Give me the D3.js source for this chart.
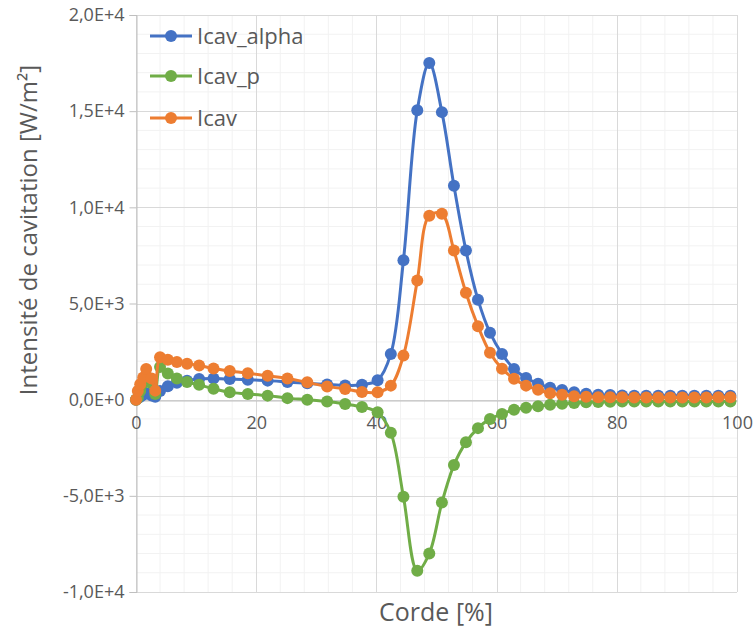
<!DOCTYPE html>
<html><head><meta charset="utf-8">
<script src="https://cdn.jsdelivr.net/npm/d3@7"></script>
<style>body{margin:0;background:#fff}svg{display:block}</style>
</head><body>
<script>
const chord = [0, 0.3, 0.7, 1.2, 1.7, 2.6, 3.2, 4.0, 5.3, 6.8, 8.5, 10.5, 12.9, 15.6, 18.6, 21.9, 25.2, 28.5, 31.8, 34.8, 37.6, 40.2, 42.4, 44.5, 46.8, 48.8, 50.9, 52.9, 54.9, 56.9,
  58.9, 60.9, 62.9, 64.9, 66.9, 68.9, 70.9, 72.9, 74.9, 76.9, 78.9, 80.9, 82.9, 84.9, 86.9, 88.9, 90.9, 92.9, 94.9, 96.9, 98.9];
const icavAlpha = [0, 80, 150, 250, 330, 220, 150, 450, 700, 880, 990, 1080, 1100, 1070, 1030, 990, 920, 850, 790, 740, 780, 1010, 2380, 7250, 15050, 17500, 14950, 11120, 7750, 5200,
  3480, 2380, 1600, 1130, 830, 620, 500, 380, 310, 260, 240, 220, 210, 210, 200, 200, 200, 200, 200, 210, 210];
const icavP = [0, 100, 450, 850, 1250, 850, 300, 1700, 1360, 1100, 920, 770, 570, 380, 300, 210, 80, 0, -100, -230, -380, -660, -1720, -5050, -8900, -8000, -5350, -3400, -2220, -1480,
  -1000, -750, -520, -420, -340, -270, -210, -170, -140, -120, -110, -100, -100, -90, -90, -90, -90, -90, -90, -90, -90];
const icav = [0, 450, 800, 1150, 1600, 1100, 470, 2200, 2080, 1960, 1870, 1780, 1620, 1490, 1370, 1240, 1100, 900, 680, 560, 400, 390, 730, 2290, 6190, 9560, 9670, 7750, 5560, 3820,
  2440, 1610, 1090, 730, 520, 330, 260, 180, 150, 130, 120, 120, 110, 110, 110, 110, 110, 110, 110, 120, 120];
const seriesNames = ["Icav_alpha", "Icav_p", "Icav"];
const seriesColors = ["#4472C4", "#70AD47", "#ED7D31"];
const xTicks = [0, 20, 40, 60, 80, 100];
const yTicks = [-10000, -5000, 0, 5000, 10000, 15000, 20000];
const yTickLabels = ["-1,0E+4", "-5,0E+3", "0,0E+0", "5,0E+3", "1,0E+4", "1,5E+4", "2,0E+4"];
const xTitle = "Corde [%]";
const yTitle = "Intensité de cavitation [W/m²]";

const W = 753, H = 634;
const svg = d3.select("body").append("svg").attr("width", W).attr("height", H)
  .style("font-family", "'Open Sans', sans-serif");
const x = d3.scaleLinear().domain([0, 100]).range([136, 737]);
const y = d3.scaleLinear().domain([-10000, 20000]).range([592, 15]);

// minor gridlines
const gMinor = svg.append("g").attr("stroke", "#F2F2F2").attr("stroke-width", 1);
d3.range(0, 101, 4).forEach(v => { if (v % 20 !== 0) gMinor.append("line").attr("x1", x(v)).attr("x2", x(v)).attr("y1", y(-10000)).attr("y2", y(20000)); });
d3.range(-10000, 20001, 1000).forEach(v => { if (v % 5000 !== 0) gMinor.append("line").attr("y1", y(v)).attr("y2", y(v)).attr("x1", x(0)).attr("x2", x(100)); });
// major gridlines
const gMajor = svg.append("g").attr("stroke", "#D9D9D9").attr("stroke-width", 1);
xTicks.forEach(v => gMajor.append("line").attr("x1", Math.round(x(v)) + 0.5).attr("x2", Math.round(x(v)) + 0.5).attr("y1", y(-10000)).attr("y2", y(20000)));
yTicks.forEach(v => gMajor.append("line").attr("y1", Math.round(y(v)) + 0.5).attr("y2", Math.round(y(v)) + 0.5).attr("x1", x(0)).attr("x2", x(100)));

// y axis
const yAxis = d3.axisLeft(y).tickValues(yTicks).tickFormat((d, i) => yTickLabels[i]).tickSize(7).tickPadding(5);
const gy = svg.append("g").attr("transform", `translate(${Math.round(x(0)) + 0.5},0)`).call(yAxis);
gy.select(".domain").attr("stroke", "#BFBFBF");
gy.selectAll(".tick line").attr("stroke", "#BFBFBF");
gy.selectAll(".tick text").attr("fill", "#595959").style("font-size", "18px").style("font-family", "'Open Sans', sans-serif");

// x axis at y=0
const xAxis = d3.axisBottom(x).tickValues(xTicks).tickFormat(d3.format("d")).tickSize(0).tickPadding(16);
const gx = svg.append("g").attr("transform", `translate(0,${Math.round(y(0)) + 0.5})`).call(xAxis);
gx.select(".domain").attr("stroke", "#BFBFBF");
gx.selectAll(".tick text").attr("fill", "#595959").style("font-size", "18px").style("font-family", "'Open Sans', sans-serif");

// titles
svg.append("text").attr("x", 436).attr("y", 621).attr("text-anchor", "middle").attr("fill", "#595959")
  .style("font-size", "25px").text(xTitle);
svg.append("text").attr("transform", "translate(37,230) rotate(-90)").attr("text-anchor", "middle").attr("fill", "#595959")
  .style("font-size", "24px").text(yTitle);

// series
const allSeries = [icavAlpha, icavP, icav];
const line = d3.line().x((d, i) => x(chord[i])).y(d => y(d)).curve(d3.curveCatmullRom.alpha(0.5));
allSeries.forEach((vals, k) => {
  const g = svg.append("g");
  g.append("path").datum(vals).attr("d", line).attr("fill", "none").attr("stroke", seriesColors[k])
    .attr("stroke-width", 3).attr("stroke-linejoin", "round");
  g.selectAll("circle").data(vals).join("circle").attr("cx", (d, i) => x(chord[i])).attr("cy", d => y(d))
    .attr("r", 6).attr("fill", seriesColors[k]);
});

// legend
const legY = [36, 76, 118];
seriesNames.forEach((n, k) => {
  const g = svg.append("g").attr("transform", `translate(150,${legY[k]})`);
  g.append("line").attr("x1", 0).attr("x2", 42).attr("stroke", seriesColors[k]).attr("stroke-width", 3);
  g.append("circle").attr("cx", 21).attr("r", 6).attr("fill", seriesColors[k]);
  g.append("text").attr("x", 47).attr("dy", "0.35em").attr("fill", "#595959").style("font-size", "22px").text(n);
});
</script>
</body></html>
